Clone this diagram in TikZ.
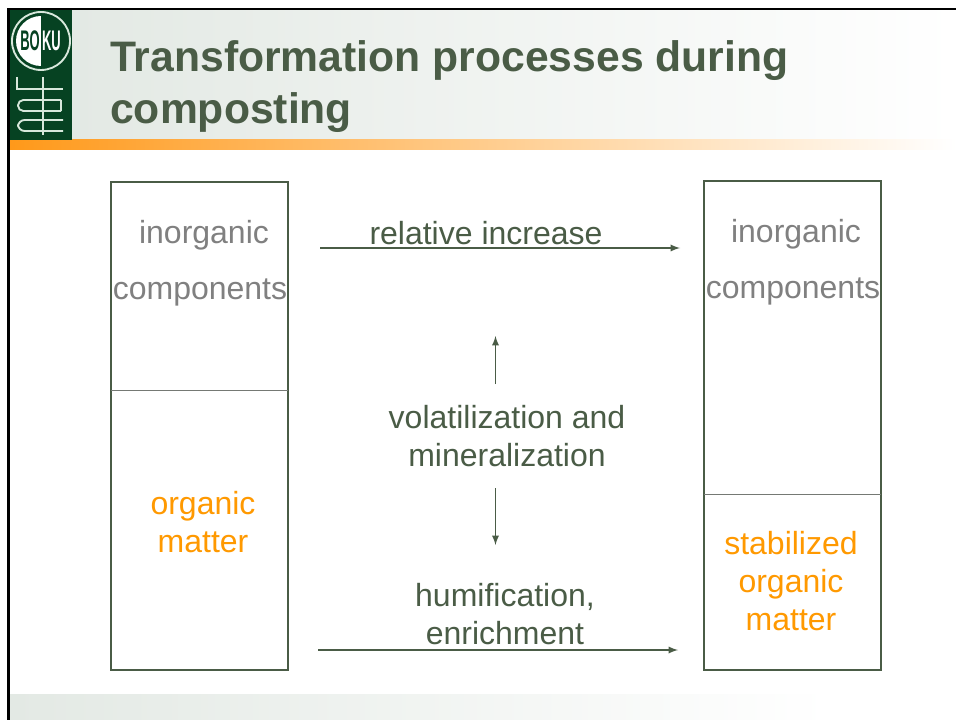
\documentclass[tikz,border=0pt]{standalone}
\usepackage{fontspec}
\setmainfont{Liberation Sans}
\definecolor{dark_green}{RGB}{74,92,70}
\definecolor{logo_green}{RGB}{6,66,34}
\definecolor{logo_line}{RGB}{216,232,220}
\definecolor{pale_green}{RGB}{227,233,228}
\definecolor{bar_orange}{RGB}{255,153,26}
\definecolor{bar_peach}{RGB}{255,205,175}
\definecolor{text_grey}{RGB}{128,128,128}
\definecolor{text_orange}{RGB}{255,153,0}
\begin{document}
\begin{tikzpicture}[x=0.75pt,y=-0.75pt,
		box/.style    = {draw = dark_green, line width = 2.2pt},
		divider/.style = {draw = text_grey!80!dark_green, line width = 0.75pt},
		flow/.style   = {draw = dark_green, line width = 1.4pt, -latex},
		grey/.style   = {text = text_grey, font = \fontsize{24}{29}\selectfont, inner sep = 0},
		orange/.style = {text = text_orange, font = \fontsize{24}{28.5}\selectfont, align = center, inner sep = 0},
		label/.style  = {text = dark_green, font = \fontsize{24}{28.5}\selectfont, align = center, inner sep = 0},
		logo/.style   = {draw = logo_line, line width = 1.4pt},
		heading/.style = {anchor = base west, inner sep = 0, text = dark_green, font = \fontsize{32}{32}\bfseries\selectfont},
		bokuletters/.style = {font = \fontsize{12.5}{12.5}\bfseries\selectfont, xscale = 0.78, yscale = 1.7, inner sep = 0}]
	\useasboundingbox (0,0) rectangle (956,720);
	\fill[white] (0,0) rectangle (956,720);
	
	% header and footer bands
	\shade[left color=pale_green, middle color=pale_green!35!white, right color=white] (72,10) rectangle (956,140);
	\shade[left color=bar_orange, middle color=bar_peach, right color=white] (10,140) rectangle (956,150);
	\shade[left color=pale_green, middle color=pale_green!70!white, right color=white] (10,694) rectangle (830,720);
	\draw[black, line width=2pt] (8.5,720) -- (8.5,9) -- (956,9);
	
	% logo
	\fill[logo_green] (10,10) rectangle (72,140);
	\begin{scope}
		\clip (41,41) circle (25);
		\fill[white] (16,16) rectangle (41,66);
	\end{scope}
	\draw[logo] (41,41) circle (29);
	\node[bokuletters, text=logo_green] (boku1) at (30,41) {BO};
	\node[bokuletters, text=white] (boku2) at (51.5,41) {KU};
	\draw[logo] (43,77) -- (43,135);
	\draw[logo] (17,77) -- (17,89) -- (63,89);
	\draw[logo, rounded corners=4pt] (61,100) -- (18,100) -- (18,111) -- (61,111);
	\draw[logo] (61,100) -- (61,111);
	\draw[logo, rounded corners=5pt] (63,120) -- (18,120) -- (18,131) -- (63,131);
	
	% title
	\node[heading] (title1) at (110,72) {Transformation processes during};
	\node[heading] (title2) at (110,124) {composting};
	
	% columns
	\draw[box] (111,182) rectangle (288,670);
	\draw[divider] (111,390) -- (288,390);
	\draw[box] (704,181) rectangle (881,670);
	\draw[divider] (704,494) -- (881,494);
	
	\node[grey] (inL) at (204,235) {inorganic};
	\node[grey] (compL) at (200,292) {components};
	\node[orange] (orgL) at (203,522) {organic\\matter};
	\node[grey] (inR) at (796,234) {inorganic};
	\node[grey] (compR) at (793,291) {components};
	\node[orange] (orgR) at (791,581) {stabilized\\organic\\matter};
	
	% middle column
	\node[label] (rel) at (486,233) {relative increase};
	\node[label] (vol) at (507,436) {volatilization and\\mineralization};
	\node[label] (hum) at (505,614) {humification,\\enrichment};
	
	\coordinate (a0) at (320,248);
	\coordinate (a1) at (680,248);
	\coordinate (b0) at (318,650);
	\coordinate (b1) at (678,650);
	\coordinate (c0) at (495.5,384);
	\coordinate (c1) at (495.5,336);
	\coordinate (d0) at (495.5,488);
	\coordinate (d1) at (495.5,545);
	\draw[flow] (a0) -- (a1);
	\draw[flow] (b0) -- (b1);
	\draw[flow] (c0) -- (c1);
	\draw[flow] (d0) -- (d1);
\end{tikzpicture}
\end{document}
